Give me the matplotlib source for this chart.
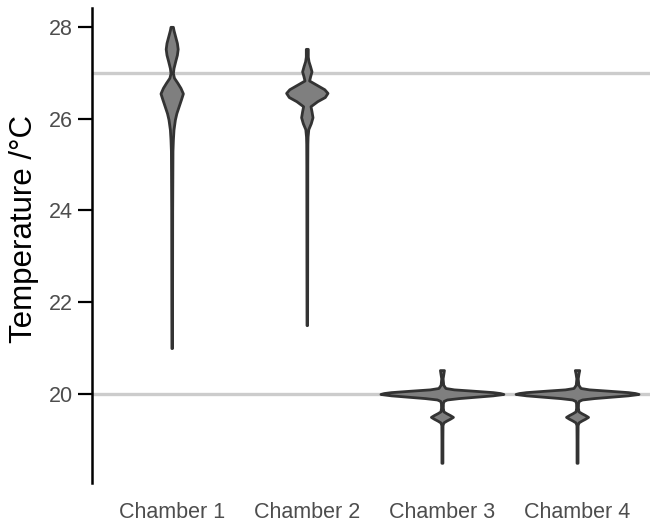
import matplotlib.pyplot as plt
import numpy as np

plt.rcParams['font.family'] = ['Liberation Sans', 'DejaVu Sans']

chambers = ['Chamber 1', 'Chamber 2', 'Chamber 3', 'Chamber 4']
ref_temps = [27, 20]

# violin outlines: temperature levels and half-width (density, px units)
ch1_temp = [21.0, 22.0, 24.0, 25.3, 25.54, 25.76, 25.98, 26.12, 26.27, 26.42, 26.55, 26.67,
            26.78, 26.89, 26.99, 27.10, 27.25, 27.39, 27.52, 27.65, 27.79, 27.93, 28.0]
ch1_dens = [0.3, 0.4, 0.5, 0.8, 1.2, 1.8, 3.2, 4.7, 7.0, 9.3, 11.2, 8.8,
            5.7, 2.3, 1.2, 1.8, 3.5, 5.2, 6.0, 5.2, 3.5, 1.8, 1.2]

ch2_temp = [21.5, 23.0, 25.0, 25.45, 25.61, 25.77, 25.90, 26.03, 26.16, 26.27, 26.38, 26.47,
            26.56, 26.64, 26.74, 26.83, 26.92, 27.03, 27.14, 27.25, 27.35, 27.43, 27.52]
ch2_dens = [0.3, 0.4, 0.5, 0.6, 0.8, 1.5, 4.0, 5.7, 4.7, 3.7, 10.5, 18.0,
            20.7, 17.5, 9.5, 2.3, 3.3, 4.7, 3.3, 1.7, 1.0, 1.0, 1.0]

ch3_temp = [18.5, 19.0, 19.32, 19.38, 19.42, 19.46, 19.50, 19.54, 19.58, 19.62, 19.70, 19.80,
            19.85, 19.88, 19.91, 19.94, 19.97, 20.0, 20.02, 20.04, 20.07, 20.10, 20.13,
            20.20, 20.34, 20.45, 20.52]
ch3_dens = [0.5, 0.5, 0.6, 1.5, 4.5, 8.0, 11.0, 8.0, 4.5, 1.5, 0.9, 1.0,
            1.8, 5.0, 17.0, 34.0, 51.0, 61.5, 58.0, 51.0, 32.0, 12.0, 3.5,
            1.3, 0.7, 1.5, 2.0]

ch4_temp = [18.5, 19.0, 19.32, 19.38, 19.42, 19.46, 19.50, 19.54, 19.58, 19.62, 19.70, 19.80,
            19.85, 19.88, 19.91, 19.94, 19.97, 20.0, 20.02, 20.04, 20.07, 20.10, 20.13,
            20.20, 20.34, 20.45, 20.52]
ch4_dens = [0.5, 0.5, 0.6, 1.5, 4.5, 8.0, 11.0, 8.0, 4.5, 1.5, 0.9, 1.0,
            1.8, 5.0, 17.0, 34.0, 51.0, 61.5, 58.0, 51.0, 32.0, 12.0, 3.5,
            1.3, 0.7, 1.5, 2.2]

temps = [ch1_temp, ch2_temp, ch3_temp, ch4_temp]
dens = [ch1_dens, ch2_dens, ch3_dens, ch4_dens]

dens_scale = 1 / 135.2  # common scale for all violins (area scaling)

fig = plt.figure(figsize=(6.5, 5.27), dpi=100)
ax = fig.add_axes([0.1415, 0.0835, 0.8585, 0.9013])

for t in ref_temps:
    ax.axhline(t, color='#cccccc', lw=2.4, zorder=1)

for i, (t, d) in enumerate(zip(temps, dens)):
    pos = i + 1
    t = np.array(t)
    d = np.array(d) * dens_scale
    ax.fill_betweenx(t, pos - d, pos + d, facecolor='#7f7f7f', edgecolor='#333333',
                     lw=2.0, zorder=2)

ax.set_xlim(0.41, 4.54)
ax.set_ylim(18.06, 28.41)
ax.set_xticks(range(1, len(chambers) + 1))
ax.set_xticklabels(chambers)
ax.set_yticks([20, 22, 24, 26, 28])

for s in ['top', 'right', 'bottom']:
    ax.spines[s].set_visible(False)
ax.spines['left'].set_linewidth(1.8)
ax.spines['left'].set_color('black')

ax.tick_params(axis='x', length=0, pad=14, labelsize=15.5, labelcolor='#4d4d4d')
ax.tick_params(axis='y', length=10, width=1.6, pad=4, labelsize=15.5, labelcolor='#4d4d4d')

ax.set_ylabel('Temperature /\u00b0C', fontsize=22.5, color='black')
ax.yaxis.set_label_coords(-0.095, 0.535)

fig.savefig('out.png', dpi=100)
